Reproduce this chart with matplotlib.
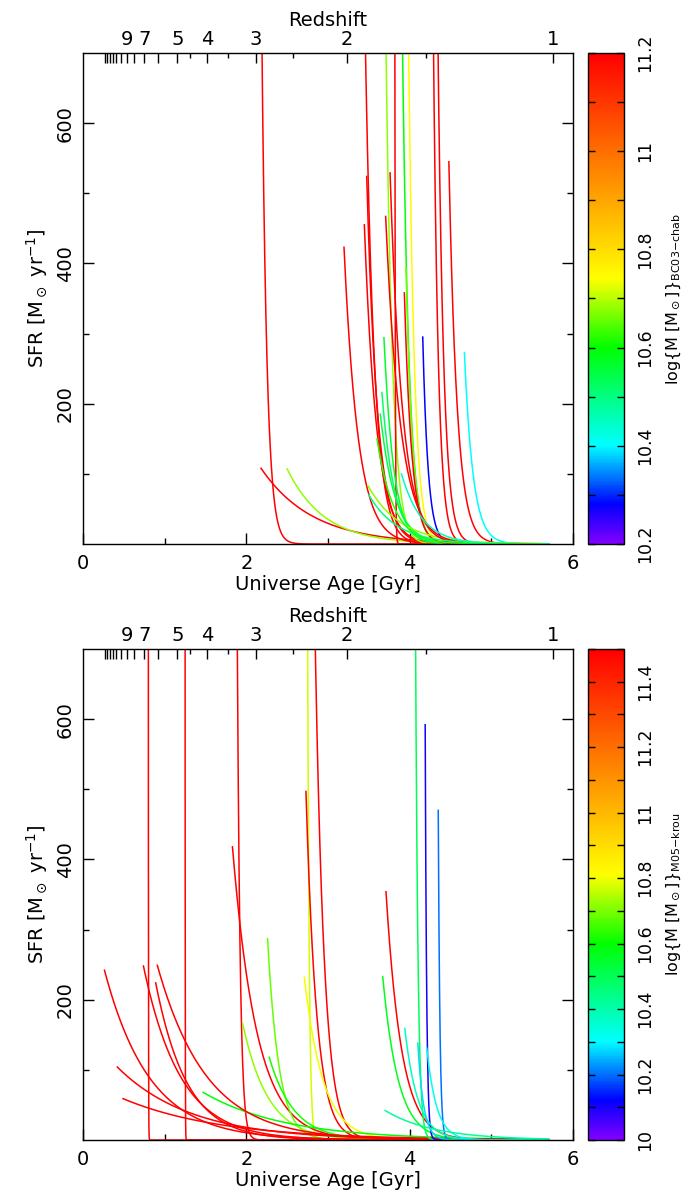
import numpy as np
import matplotlib.pyplot as plt
from matplotlib.colors import LinearSegmentedColormap, Normalize
from matplotlib.cm import ScalarMappable
from matplotlib.ticker import FixedLocator, MultipleLocator, FormatStrFormatter

# cosmology used for the redshift axis (flat LCDM)
H0 = 70.0
OM = 0.3
OL = 0.7

# colour scale: rainbow from violet (low mass) to red (high mass)
cmap_pos = [0.0, 0.08, 0.2, 0.4, 0.54, 1.0]
cmap_col = ['#8000ff', '#0000ff', '#00ffff', '#00ff00', '#ffff00', '#ff0000']

# --- top panel (BC03-chab) : one entry per galaxy ---
# start age [Gyr], SFR at start, tau [Gyr], end age [Gyr], log mass
top_t0 = [2.17, 2.18, 2.50, 3.196, 3.42, 3.445, 3.474, 3.65, 3.81, 3.87,
          3.95, 4.26, 4.31, 4.48, 4.67, 4.16, 3.685, 3.66, 3.64, 3.955,
          3.935, 3.49, 3.76, 3.706, 3.50, 3.90, 3.60]
top_sfr0 = [1000, 108, 107, 423, 1000, 455, 524, 1500, 3000, 1200,
            1200, 1200, 1200, 545, 273, 295, 294, 216, 185, 394,
            358, 83, 529, 467, 70, 100, 150]
top_tau = [0.062, 0.63, 0.45, 0.17, 0.11, 0.15, 0.13, 0.08, 0.006, 0.08,
           0.07, 0.06, 0.07, 0.10, 0.106, 0.066, 0.12, 0.15, 0.18, 0.08,
           0.09, 0.40, 0.15, 0.18, 0.35, 0.25, 0.2]
top_tend = [5.7, 5.7, 5.7, 5.6, 5.5, 5.6, 5.5, 5.6, 5.3, 5.6,
            5.5, 5.7, 5.7, 5.7, 5.7, 5.5, 5.6, 5.6, 5.6, 5.6,
            5.6, 5.7, 5.6, 5.6, 5.7, 5.7, 5.6]
top_logm = [11.3, 11.3, 10.68, 11.3, 11.3, 11.3, 11.3, 10.68, 11.3, 10.6,
            10.75, 11.3, 11.3, 11.3, 10.4, 10.28, 10.57, 10.52, 10.55, 10.66,
            11.3, 10.68, 11.3, 11.3, 10.5, 10.45, 10.62]

# --- bottom panel (M05-krou) ---
bot_t0 = [0.79, 1.24, 1.87, 2.73, 2.83, 2.73, 2.71, 1.83, 2.26, 1.955,
          2.28, 1.47, 0.263, 0.42, 0.49, 0.74, 0.91, 0.89, 3.67, 3.71,
          4.05, 4.19, 4.35, 3.94, 4.10, 4.21, 3.70]
bot_sfr0 = [1e5, 1e5, 1240, 2000, 800, 497, 232, 418, 287, 166,
            118, 68, 242, 104, 59, 248, 249, 224, 233, 354,
            1500, 592, 470, 159, 138, 131, 42]
bot_tau = [0.002, 0.002, 0.035, 0.02, 0.11, 0.13, 0.23, 0.30, 0.14, 0.31,
           0.30, 1.0, 0.55, 0.9, 1.2, 0.45, 0.6, 0.38, 0.19, 0.19,
           0.03, 0.018, 0.02, 0.16, 0.07, 0.12, 0.6]
bot_tend = [5.7] * 27
bot_logm = [11.6, 11.6, 11.6, 10.77, 11.6, 11.6, 10.8, 11.6, 10.68, 10.72,
            10.62, 10.6, 11.6, 11.6, 11.6, 11.6, 11.6, 11.6, 10.57, 11.6,
            10.5, 10.1, 10.2, 10.38, 10.28, 10.33, 10.42]

z_labels = [1, 2, 3, 4, 5, 7, 9]
z_major = list(range(1, 16))
z_minor = [1.5, 2.5, 3.5, 4.5]


def age_at_z(z):
    t_h = 977.8 / H0
    z = np.asarray(z, dtype=float)
    return 2.0 / (3.0 * np.sqrt(OL)) * t_h * np.arcsinh(np.sqrt(OL / OM) * (1 + z) ** -1.5)


cmap = LinearSegmentedColormap.from_list('mass', list(zip(cmap_pos, cmap_col)))

plt.rcParams['font.family'] = ['DejaVu Sans']
plt.rcParams['mathtext.fontset'] = 'dejavusans'

fig = plt.figure(figsize=(6.85, 11.95), dpi=100)
W, H = 685.0, 1195.0


def panel(top_px, t0s, sfr0s, taus, tends, logms, mlo, mhi, cblabel):
    bot_px = top_px + 491
    ax = fig.add_axes([83 / W, 1 - bot_px / H, 490 / W, 491 / H])
    cax = fig.add_axes([588 / W, 1 - bot_px / H, 36 / W, 491 / H])
    norm = Normalize(mlo, mhi)

    for t0, a, tau, te, m in zip(t0s, sfr0s, taus, tends, logms):
        t = t0 + (te - t0) * np.linspace(0, 1, 4000) ** 2
        sfr = a * np.exp(-(t - t0) / tau)
        ax.plot(t, sfr, color=cmap(norm(min(m, mhi))), lw=1.1)

    ax.set_xlim(0, 6)
    ax.set_ylim(0, 700)
    ax.xaxis.set_major_locator(FixedLocator([0, 2, 4, 6]))
    ax.xaxis.set_minor_locator(FixedLocator([1, 3, 5]))
    ax.yaxis.set_major_locator(FixedLocator([200, 400, 600]))
    ax.yaxis.set_minor_locator(FixedLocator([100, 300, 500]))
    ax.tick_params(which='both', direction='in', bottom=True, top=False,
                   left=True, right=True, labelsize=14, width=1.0)
    ax.tick_params(which='major', length=8)
    ax.tick_params(which='minor', length=4.5)
    ax.tick_params(axis='y', labelrotation=90, pad=6)
    ax.tick_params(axis='x', pad=7)
    for lab in ax.get_yticklabels():
        lab.set_va('center')
    ax.set_xlabel('Universe Age [Gyr]', fontsize=14, labelpad=2)
    ax.set_ylabel(r'SFR [M$_\odot$ yr$^{-1}$]', fontsize=14, labelpad=4)
    for s in ax.spines.values():
        s.set_linewidth(1.0)
        s.set_color('#333333')

    # redshift axis on top
    axz = ax.twiny()
    axz.set_xlim(0, 6)
    axz.xaxis.set_major_locator(FixedLocator(age_at_z(z_major)))
    axz.xaxis.set_minor_locator(FixedLocator(age_at_z(z_minor)))
    axz.set_xticklabels([str(z) if z in z_labels else '' for z in z_major])
    axz.tick_params(which='both', direction='in', labelsize=14, width=1.0, pad=3)
    axz.tick_params(which='major', length=7)
    axz.tick_params(which='minor', length=3.5)
    axz.set_xlabel('Redshift', fontsize=14, labelpad=3)

    # colour bar
    sm = ScalarMappable(norm=norm, cmap=cmap)
    cb = fig.colorbar(sm, cax=cax)
    cb.outline.set_linewidth(1.0)
    cax.yaxis.set_major_locator(MultipleLocator(0.2))
    cax.yaxis.set_minor_locator(MultipleLocator(0.1))
    cax.yaxis.set_major_formatter(FormatStrFormatter('%g'))
    cax.tick_params(which='both', direction='in', left=True, right=True,
                    length=5, width=1.0, labelsize=12.5, labelrotation=90, pad=9)
    for lab in cax.get_yticklabels():
        lab.set_va('center')
    cax.set_ylabel(cblabel, fontsize=11.5, labelpad=7)
    return ax


panel(53, top_t0, top_sfr0, top_tau, top_tend, top_logm, 10.2, 11.2,
      r'log{M [M$_\odot$]}$_{\rm BC03{-}chab}$')
panel(649, bot_t0, bot_sfr0, bot_tau, bot_tend, bot_logm, 10.0, 11.5,
      r'log{M [M$_\odot$]}$_{\rm M05{-}krou}$')

fig.savefig('out.png', dpi=100)
